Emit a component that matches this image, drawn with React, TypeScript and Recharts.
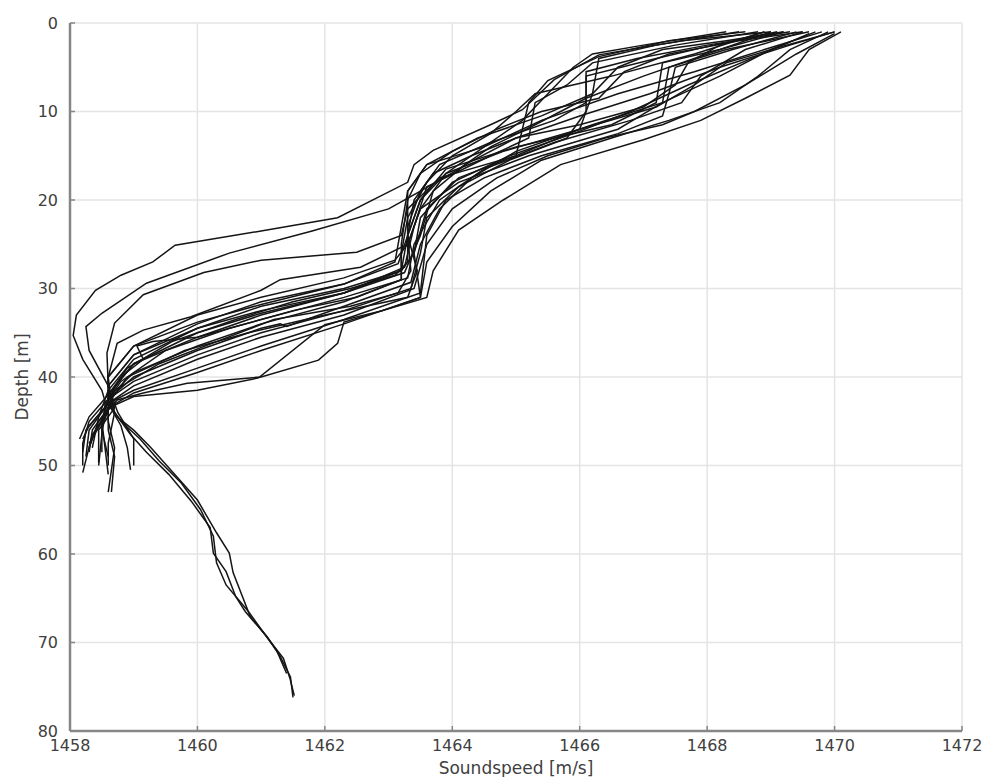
import { ScatterChart, Scatter, XAxis, YAxis, CartesianGrid } from "recharts";

// each point: [soundspeed m/s, depth m]
type Pt = [number, number];

const speedTicks = [1458, 1460, 1462, 1464, 1466, 1468, 1470, 1472];
const depthTicks = [0, 10, 20, 30, 40, 50, 60, 70, 80];

const p01: Pt[] = [[1469.0,1],[1467.6,2],[1466.3,3.6],[1465.6,6.4],[1465.1,9.8],[1464.6,11.5],[1463.7,14.4],[1463.4,16],[1463.3,18],[1462.2,22],[1461.0,23.5],[1459.65,25.1],[1459.3,27],[1458.8,28.5],[1458.4,30.2],[1458.1,33],[1458.05,35.3],[1458.2,38],[1458.5,41.5],[1458.6,44],[1458.35,46.5],[1458.2,50.8]];
const p02: Pt[] = [[1469.3,1],[1468.0,2.5],[1466.9,4],[1466.1,5.5],[1466.1,9],[1465.6,11],[1464.6,13.5],[1463.8,16],[1463.5,19],[1463.0,21],[1461.8,23.5],[1460.5,26],[1459.2,29.4],[1458.5,32.8],[1458.25,34.3],[1458.3,37],[1458.6,41],[1458.7,43.5],[1458.45,46],[1458.45,49.7]];
const p03: Pt[] = [[1468.5,1],[1467.2,2.5],[1466.3,4],[1466.2,8],[1466.0,12],[1465.0,15],[1463.8,17.5],[1463.3,21],[1463.2,24],[1462.5,25.9],[1461.0,26.8],[1460.1,28.2],[1459.15,30.7],[1458.7,33.9],[1458.58,37.3],[1458.6,41],[1458.65,43],[1458.35,46],[1458.3,48.5]];
const p04: Pt[] = [[1469.6,1],[1468.3,3],[1467.4,5],[1467.3,9],[1466.6,12],[1465.2,15],[1464.1,18],[1463.5,21],[1463.3,25],[1462.56,27.6],[1461.3,29],[1461.0,30.2],[1459.9,33.2],[1459.15,34.7],[1458.74,36.2],[1458.6,40],[1458.65,43],[1458.4,46],[1458.3,48]];
const p05: Pt[] = [[1469.8,1],[1468.9,3],[1467.8,5.5],[1466.6,8],[1465.4,11],[1464.5,14],[1463.9,17],[1463.5,21],[1463.3,25],[1463.1,26.8],[1462.3,28.8],[1461.0,31],[1460.0,33],[1459.0,36.5],[1458.6,40],[1458.6,43],[1458.3,46],[1458.25,49]];
const p06: Pt[] = [[1469.2,1],[1468.2,3],[1467.3,4.5],[1467.2,9],[1466.5,11.5],[1465.0,14],[1463.9,16.5],[1463.5,20],[1463.3,24],[1463.15,27.2],[1462.3,29.5],[1461.0,31.5],[1460.0,34],[1459.0,37.5],[1458.6,41],[1458.7,44],[1458.6,47.5],[1458.6,50]];
const p07: Pt[] = [[1468.8,1],[1467.5,2.5],[1466.2,4.5],[1465.8,7],[1465.3,9],[1465.2,13],[1464.6,15],[1463.6,18.5],[1463.4,23],[1463.25,27.6],[1462.3,30.5],[1461.0,32.5],[1460.0,34.5],[1459.0,38],[1458.6,41.5],[1458.45,44.5],[1458.35,48]];
const p08: Pt[] = [[1470.0,1],[1469.3,2.5],[1468.2,5],[1467.1,8],[1466.0,10.5],[1465.0,13],[1464.2,16],[1463.7,19],[1463.5,24],[1463.25,28.2],[1462.3,30.5],[1461.0,33],[1460.0,35.5],[1459.0,38.5],[1458.6,42],[1458.6,45],[1458.7,48],[1458.6,53]];
const p09: Pt[] = [[1469.5,1],[1468.6,3],[1467.9,6],[1467.6,9],[1466.8,11],[1465.6,13.5],[1464.5,16.5],[1463.8,20],[1463.4,25],[1463.3,28.8],[1462.3,31],[1461.0,33.5],[1460.0,35.5],[1459.3,36],[1459.05,36.5],[1459.15,38],[1458.8,40],[1458.6,42.5],[1458.5,45],[1458.5,48.5]];
const p10: Pt[] = [[1468.9,1],[1467.8,3.5],[1466.5,6],[1465.3,8],[1465.0,10],[1464.6,12.5],[1464.0,15],[1463.6,18],[1463.3,22],[1463.2,26],[1463.2,29],[1462.3,31.5],[1461.0,34],[1460.0,36.5],[1459.0,39.5],[1458.65,42],[1458.75,44],[1459.0,47],[1459.0,50]];
const p11: Pt[] = [[1469.7,1],[1469.0,3],[1468.2,6],[1467.3,9],[1466.2,11.5],[1465.0,14.5],[1464.3,17.5],[1463.8,21],[1463.5,25],[1463.35,29.3],[1462.3,32],[1461.4,34.3],[1461.3,34],[1461.0,34.5],[1460.0,37],[1459.0,40],[1458.6,42.5],[1458.3,45],[1458.2,47.5],[1458.2,50]];
const p12: Pt[] = [[1469.1,1],[1468.1,2.5],[1467.2,4],[1466.1,6],[1466.1,10],[1465.8,13],[1464.9,15.5],[1464.1,18.5],[1463.6,22],[1463.5,26],[1463.35,30],[1462.3,32.5],[1461.0,35],[1460.0,37.5],[1459.0,40.5],[1458.6,42.5],[1458.5,45],[1458.55,48],[1458.6,51]];
const p13: Pt[] = [[1470.0,1.2],[1469.4,3.5],[1468.6,7],[1467.8,10],[1467.3,11.5],[1466.4,13],[1465.5,15],[1464.7,17.5],[1464.0,21],[1463.6,25],[1463.4,30],[1462.3,33],[1461.0,35.5],[1460.0,38],[1459.0,41],[1458.6,43],[1458.8,45.5],[1458.9,48],[1458.95,50.5]];
const p14: Pt[] = [[1469.4,1],[1468.4,3],[1467.5,5],[1467.4,8],[1467.3,10.5],[1466.6,12.5],[1465.4,15],[1464.5,17.5],[1463.9,20],[1463.6,24],[1463.5,30.5],[1462.3,33.5],[1461.0,36.5],[1460.0,39],[1459.0,41.5],[1458.6,43],[1458.3,45.5],[1458.2,47]];
const p15: Pt[] = [[1468.6,1],[1467.4,2],[1466.3,3.8],[1465.5,6.5],[1465.2,9],[1465.1,12],[1465.0,15],[1464.1,17.5],[1463.6,21],[1463.4,26],[1463.5,31],[1462.3,34],[1461.0,37],[1460.0,39.5],[1459.0,41.8],[1458.6,43.5],[1458.6,46],[1458.7,49],[1458.65,53]];
const p16: Pt[] = [[1470.1,1],[1469.6,3],[1469.3,5.9],[1468.6,8.5],[1467.9,11],[1467.0,13.2],[1465.7,16],[1464.8,20],[1464.1,23.4],[1463.7,28],[1463.6,31],[1462.3,33.8],[1462.2,36.2],[1461.9,38.1],[1461.0,40],[1459.84,40.7],[1459.15,41.8],[1458.74,42.6],[1458.45,45],[1458.3,48]];
const p17: Pt[] = [[1469.9,1],[1469.3,3],[1468.8,6],[1468.2,9],[1467.4,11],[1466.5,13],[1465.4,15.5],[1464.6,19],[1464.0,23],[1463.6,27],[1463.5,31],[1462.9,32.5],[1462.0,34.1],[1460.96,40.1],[1460.0,41.5],[1459.0,42.2],[1458.6,43.5],[1458.5,46],[1458.6,49]];
const p18: Pt[] = [[1469.0,1],[1468.0,3.5],[1467.0,6],[1466.1,8.5],[1465.3,11.5],[1464.6,14],[1464.1,16.5],[1463.5,19],[1463.3,23],[1463.3,27],[1463.1,28.5],[1462.4,30],[1461.5,31.5],[1460.6,33.5],[1459.6,36],[1458.9,39],[1458.6,42],[1458.3,44.5],[1458.15,47]];
const p19: Pt[] = [[1469.6,1.2],[1468.7,4],[1467.7,7],[1466.8,10],[1465.9,12.5],[1464.9,15],[1464.0,18],[1463.5,22],[1463.4,26],[1463.2,28],[1462.3,30],[1461.0,32],[1460.0,34.5],[1459.0,37.5],[1458.6,41],[1458.65,43.5],[1458.74,44.5],[1459.0,46],[1459.26,47.9],[1459.68,51.3],[1460.0,53.9],[1460.3,57.6],[1460.5,59.9],[1460.56,62.1],[1460.83,67.1],[1461.1,69.4],[1461.3,71.6],[1461.46,73.9],[1461.5,76.2]];
const p20: Pt[] = [[1470.0,1],[1469.1,2.8],[1468.3,4.5],[1467.8,7],[1467.2,9.5],[1466.0,12],[1464.8,14.5],[1463.9,17],[1463.5,20],[1463.3,24],[1463.2,28],[1462.3,30.5],[1461.0,32.8],[1460.0,35],[1459.0,38.5],[1458.6,42],[1458.7,44],[1458.95,46.5],[1459.2,48.5],[1459.55,51],[1459.9,54],[1460.2,57],[1460.25,59.9],[1460.45,62],[1460.6,64.8],[1460.75,66.5],[1461.05,69],[1461.35,71.8],[1461.45,74],[1461.52,76]];
const p21: Pt[] = [[1469.2,1],[1468.3,2],[1467.3,3],[1466.6,5],[1466.2,8],[1465.4,10.5],[1464.4,13],[1463.6,16],[1463.3,19],[1463.2,23],[1463.1,27],[1462.3,29.5],[1461.0,31.8],[1460.0,33.8],[1459.0,36.5],[1458.6,40],[1458.6,43],[1458.8,45],[1459.1,47],[1459.4,49.5],[1459.75,52],[1460.05,55],[1460.25,58],[1460.3,61],[1460.45,63.5],[1460.8,66.5],[1461.0,68.5],[1461.25,71],[1461.4,73.5]];
const p22: Pt[] = [[1468.3,1],[1467.0,2.5],[1466.2,3.5],[1465.9,5],[1465.5,8],[1465.1,11],[1464.5,14],[1463.6,16],[1463.3,19],[1463.3,24],[1463.45,28],[1463.3,31],[1462.0,33],[1460.8,35],[1459.8,37],[1458.9,40],[1458.6,43],[1458.25,46],[1458.2,48.5]];
const p23: Pt[] = [[1469.5,1],[1468.5,2],[1467.4,3.5],[1466.7,5.5],[1466.3,8.5],[1465.4,10],[1464.7,12],[1464.0,14.5],[1463.5,17],[1463.3,20],[1463.2,25],[1463.2,29],[1462.5,31],[1461.5,32.5],[1460.5,34.5],[1459.5,37],[1458.8,40.5],[1458.55,43],[1458.5,46.5],[1458.45,50]];
const p24: Pt[] = [[1468.9,1],[1468.2,2.5],[1467.7,4.5],[1467.5,7],[1467.0,9.5],[1466.0,11.5],[1465.0,13],[1464.3,15],[1463.7,17],[1463.4,20],[1463.3,24],[1463.35,28],[1463.15,30.5],[1462.4,32],[1461.2,33.5],[1460.3,36],[1459.4,38.5],[1458.7,41.5],[1458.55,44.5],[1458.3,47.5]];

const profiles = [p01, p02, p03, p04, p05, p06, p07, p08, p09, p10, p11, p12,
  p13, p14, p15, p16, p17, p18, p19, p20, p21, p22, p23, p24];

const font = "'DejaVu Sans', 'Liberation Sans', sans-serif";
const axisGrey = "#868686";
const textGrey = "#404040";

function DepthLabel() {
  return (
    <text
      x={22}
      y={377}
      transform="rotate(-90 22 377)"
      textAnchor="middle"
      dominantBaseline="central"
      fill={textGrey}
      fontSize={17}
      fontFamily={font}
    >
      Depth [m]
    </text>
  );
}

export default function App() {
  return (
    <div style={{ position: "absolute", left: 0, top: 0, background: "#fff" }}>
      <ScatterChart
        width={989}
        height={777}
        margin={{ top: 23, right: 27, bottom: 0, left: 0 }}
      >
        <CartesianGrid stroke="#e4e4e4" strokeWidth={1.5} />
        <XAxis
          type="number"
          dataKey="c"
          domain={[1458, 1472]}
          ticks={speedTicks}
          allowDataOverflow
          height={46}
          axisLine={{ stroke: axisGrey, strokeWidth: 2.5 }}
          tickLine={{ stroke: axisGrey, strokeWidth: 1.5 }}
          tickSize={-5}
          tickMargin={14}
          tick={{ fill: textGrey, fontSize: 16, fontFamily: font }}
          label={{
            value: "Soundspeed [m/s]",
            position: "insideBottom",
            offset: 3,
            fill: textGrey,
            fontSize: 17,
            fontFamily: font,
          }}
        />
        <YAxis
          type="number"
          dataKey="d"
          domain={[0, 80]}
          ticks={depthTicks}
          reversed
          allowDataOverflow
          width={70}
          axisLine={{ stroke: axisGrey, strokeWidth: 2.5 }}
          tickLine={{ stroke: axisGrey, strokeWidth: 1.5 }}
          tickSize={-5}
          tickMargin={17}
          tick={{ fill: textGrey, fontSize: 16, fontFamily: font }}
          label={<DepthLabel />}
        />
        {profiles.map((p, i) => (
          <Scatter
            key={i}
            data={p.map(([c, d]) => ({ c, d }))}
            line={{ stroke: "#151515", strokeWidth: 1.5 }}
            lineJointType="linear"
            shape={() => <g />}
            isAnimationActive={false}
          />
        ))}
      </ScatterChart>
    </div>
  );
}
